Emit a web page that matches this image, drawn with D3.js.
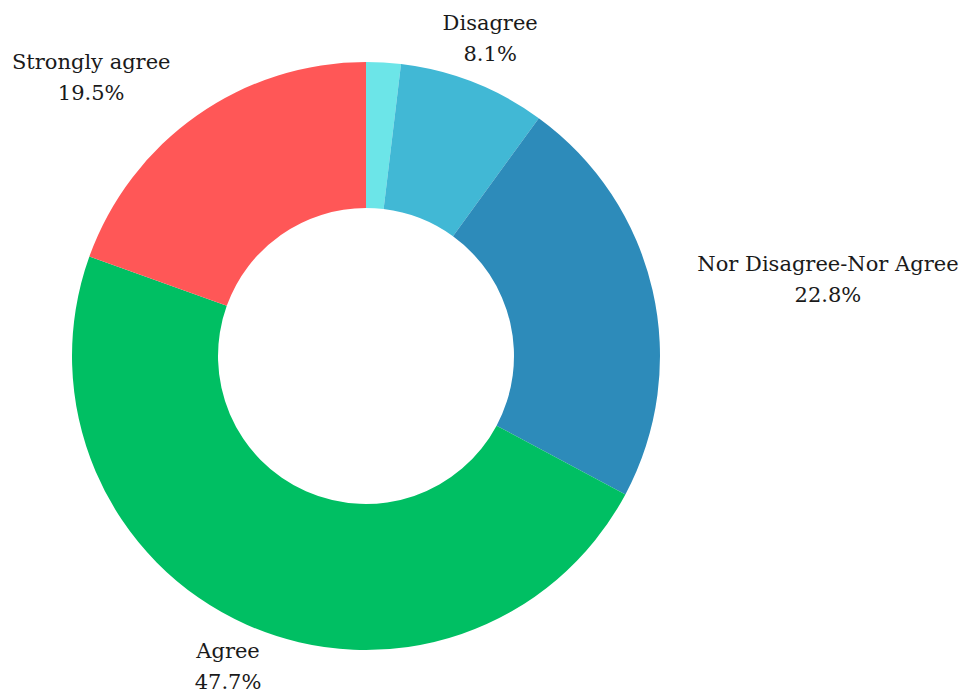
<!DOCTYPE html>
<html>
<head>
<meta charset="utf-8">
<script src="https://cdn.jsdelivr.net/npm/d3@7"></script>
<style>
  html, body { margin: 0; padding: 0; background: #ffffff; }
  svg { display: block; }
  text { font-family: "DejaVu Serif", "Liberation Serif", serif; fill: #1a1a1a; }
</style>
</head>
<body>
<svg id="chart" width="966" height="698"></svg>
<script>
// Survey responses, in drawing order (clockwise from 12 o'clock)
const categories = ["Strongly disagree", "Disagree", "Nor Disagree-Nor Agree", "Agree", "Strongly agree"];
const shares = [1.9, 8.1, 22.8, 47.7, 19.5];
const showLabel = [false, true, true, true, true];
const colors = ["#6ce5e8", "#41b8d5", "#2d8bba", "#00bf63", "#ff5757"];

const data = categories.map((c, i) => ({ category: c, value: shares[i], label: showLabel[i] }));

const svg = d3.select("#chart");
const cx = 366, cy = 356;
const outerR = 294, innerR = 148, labelR = 340;

const pie = d3.pie().value(d => d.value).sort(null);
const arc = d3.arc().innerRadius(innerR).outerRadius(outerR);
const labelArc = d3.arc().innerRadius(labelR).outerRadius(labelR);
const color = d3.scaleOrdinal().domain(categories).range(colors);

const g = svg.append("g").attr("transform", `translate(${cx},${cy})`);
const arcs = pie(data);

g.selectAll("path.slice")
  .data(arcs)
  .join("path")
  .attr("class", "slice")
  .attr("d", arc)
  .attr("fill", d => color(d.data.category));

const labels = g.selectAll("g.label")
  .data(arcs.filter(d => d.data.label))
  .join("g")
  .attr("class", "label")
  .attr("transform", d => `translate(${labelArc.centroid(d)})`);

// Side of the label block relative to its anchor point: -1 left, 0 centred, 1 right
function sideFor(d) {
  const mid = (d.startAngle + d.endAngle) / 2;
  const s = Math.sin(mid);
  if (Math.abs(s) < 0.5) return 0;
  return s > 0 ? 1 : -1;
}

labels.each(function(d) {
  const t = d3.select(this).append("text")
    .attr("text-anchor", "middle")
    .attr("font-size", 21);
  const l1 = t.append("tspan").attr("x", 0).attr("y", -9).text(d.data.category);
  const l2 = t.append("tspan").attr("x", 0).attr("y", 22).text(d3.format(".1f")(d.data.value) + "%");
  const w = Math.max(l1.node().getComputedTextLength(), l2.node().getComputedTextLength());
  const dx = sideFor(d) * w / 2;
  l1.attr("x", dx);
  l2.attr("x", dx);
});
</script>
</body>
</html>
